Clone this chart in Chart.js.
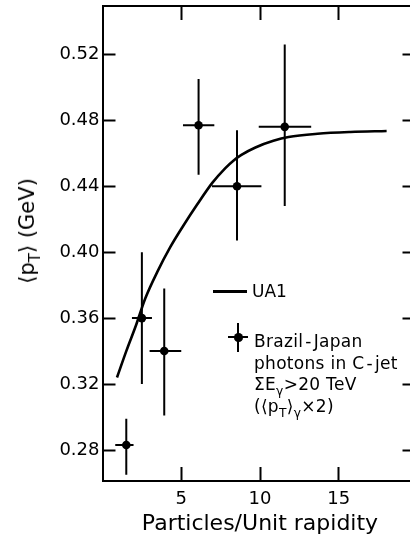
<!DOCTYPE html>
<html>
<head>
<meta charset="utf-8">
<script src="https://cdn.jsdelivr.net/npm/chart.js@4.4.1/dist/chart.umd.min.js"></script>
<style>
  html, body { margin: 0; padding: 0; overflow: hidden; background: #fff; }
  #wrap { position: relative; width: 410px; height: 537px; overflow: hidden; font-family: 'DejaVu Sans', sans-serif; color: #000; }
  #chart { position: absolute; left: 0; top: 0; }
  sub { font-size: 0.72em; line-height: 0; vertical-align: -0.4em; }
  .ytitle { position: absolute; left: 27px; top: 231px; transform: translate(-50%, -50%) rotate(-90deg); font-size: 21px; white-space: nowrap; }
  .leg-line { position: absolute; left: 213px; top: 290px; width: 34px; height: 2.5px; background: #000; }
  .leg-ua1 { position: absolute; left: 252px; top: 281px; font-size: 17px; line-height: 20px; }
  .leg-v { position: absolute; left: 237px; top: 323px; width: 2px; height: 29px; background: #000; }
  .leg-h { position: absolute; left: 228px; top: 336px; width: 20px; height: 2px; background: #000; }
  .leg-dot { position: absolute; left: 234px; top: 333px; width: 8.5px; height: 8.5px; border-radius: 50%; background: #000; }
  .leg-text { position: absolute; left: 254px; top: 331px; font-size: 17px; line-height: 21.7px; white-space: nowrap; letter-spacing: 0.3px; }
  .dash { margin: 0 2px; }
</style>
</head>
<body>
<div id="wrap">
  <canvas id="chart" width="430" height="537"></canvas>
  <div class="ytitle">⟨p<sub>T</sub>⟩ (GeV)</div>
  <div class="leg-line"></div>
  <div class="leg-ua1">UA1</div>
  <div class="leg-v"></div>
  <div class="leg-h"></div>
  <div class="leg-dot"></div>
  <div class="leg-text">
    Brazil<span class="dash">-</span>Japan<br>
    photons in C<span class="dash">-</span>jet<br>
    ΣE<sub>γ</sub>&gt;20 TeV<br>
    (⟨p<sub>T</sub>⟩<sub>γ</sub>×2)
  </div>
</div>
<script>
// UA1 curve
const uaX = [0.92, 1.51, 2.14, 2.72, 3.48, 4.30, 5.13, 6.02, 6.97, 7.80, 8.31, 8.82, 9.71, 10.85, 11.81, 13.65, 15.75, 18.04];
const uaY = [0.324, 0.340, 0.356, 0.372, 0.388, 0.403, 0.416, 0.429, 0.442, 0.451, 0.4555, 0.459, 0.4635, 0.4675, 0.4698, 0.4718, 0.4729, 0.4735];

// Brazil-Japan points with error bars
const bjX = [1.51, 2.50, 3.92, 6.10, 8.54, 11.57];
const bjY = [0.283, 0.360, 0.340, 0.477, 0.440, 0.476];
const bjXLo = [0.81, 1.87, 2.99, 5.11, 6.95, 9.92];
const bjXHi = [1.97, 3.14, 5.00, 7.10, 10.09, 13.25];
const bjYLo = [0.265, 0.320, 0.301, 0.447, 0.407, 0.428];
const bjYHi = [0.299, 0.400, 0.378, 0.505, 0.474, 0.526];

const xTicks = [5, 10, 15];
const yTicks = [0.28, 0.32, 0.36, 0.40, 0.44, 0.48, 0.52];
const xRange = [0, 20];
const yRange = [0.2612, 0.5493];

const FONT = "'DejaVu Sans', sans-serif";

const errorBars = {
    id: 'errorBars',
    afterDatasetsDraw(chart) {
        const ctx = chart.ctx;
        const xs = chart.scales.x, ys = chart.scales.y;
        ctx.save();
        ctx.strokeStyle = '#000';
        ctx.lineWidth = 2;
        for (let i = 0; i < bjX.length; i++) {
            const px = xs.getPixelForValue(bjX[i]);
            const py = ys.getPixelForValue(bjY[i]);
            ctx.beginPath();
            ctx.moveTo(px, ys.getPixelForValue(bjYLo[i]));
            ctx.lineTo(px, ys.getPixelForValue(bjYHi[i]));
            ctx.moveTo(xs.getPixelForValue(bjXLo[i]), py);
            ctx.lineTo(xs.getPixelForValue(bjXHi[i]), py);
            ctx.stroke();
        }
        ctx.restore();
    }
};

// fixed box size, no extra room for overhanging labels
const fixSize = (prop, size) => s => {
    s[prop] = size;
    s.paddingTop = 0; s.paddingBottom = 0; s.paddingLeft = 0; s.paddingRight = 0;
};

const axisBase = (min, max, ticks, len) => ({
    type: 'linear',
    min: min,
    max: max,
    afterBuildTicks: s => { s.ticks = ticks.map(v => ({ value: v })); },
    grid: { drawOnChartArea: false, drawTicks: true, tickLength: len, tickWidth: 2, tickColor: '#000' },
    border: { display: true, color: '#000', width: 2 }
});

new Chart(document.getElementById('chart'), {
    type: 'scatter',
    data: {
        datasets: [
            {
                label: 'UA1',
                data: uaX.map((x, i) => ({ x: x, y: uaY[i] })),
                showLine: true,
                borderColor: '#000',
                borderWidth: 2.6,
                pointRadius: 0,
                cubicInterpolationMode: 'monotone'
            },
            {
                label: 'Brazil-Japan',
                data: bjX.map((x, i) => ({ x: x, y: bjY[i] })),
                showLine: false,
                pointRadius: 4.3,
                pointBackgroundColor: '#000',
                pointBorderColor: '#000',
                pointBorderWidth: 0
            }
        ]
    },
    options: {
        responsive: false,
        animation: false,
        layout: { padding: 0 },
        plugins: { legend: { display: false }, tooltip: { enabled: false } },
        scales: {
            x: Object.assign(axisBase(xRange[0], xRange[1], xTicks, -14), {
                position: 'bottom',
                ticks: { color: '#000', font: { family: FONT, size: 18 }, padding: 22, maxRotation: 0 },
                title: { display: true, text: 'Particles/Unit rapidity', color: '#000', font: { family: FONT, size: 22 }, padding: { top: 0, bottom: 0 } },
                afterFit: fixSize('height', 56)
            }),
            y: Object.assign(axisBase(yRange[0], yRange[1], yTicks, -13), {
                position: 'left',
                ticks: { color: '#000', font: { family: FONT, size: 18 }, padding: 16, callback: v => v.toFixed(2) },
                afterFit: fixSize('width', 102.5)
            }),
            x2: Object.assign(axisBase(xRange[0], xRange[1], xTicks, -14), {
                position: 'top',
                ticks: { display: false },
                afterFit: fixSize('height', 6)
            }),
            y2: Object.assign(axisBase(yRange[0], yRange[1], yTicks, -15), {
                position: 'right',
                ticks: { display: false },
                afterFit: fixSize('width', 12.5)
            })
        }
    },
    plugins: [errorBars]
});
</script>
</body>
</html>
